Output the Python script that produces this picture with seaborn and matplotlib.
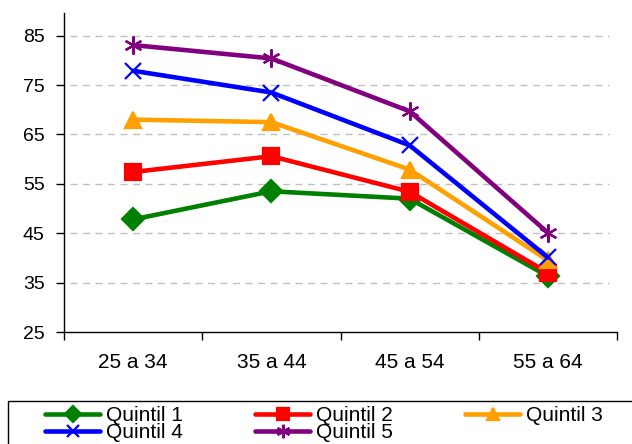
import matplotlib
matplotlib.use("Agg")
import matplotlib.pyplot as plt
from matplotlib.patches import Rectangle
from matplotlib.lines import Line2D
import seaborn as sns
import pandas as pd

# Age groups on the x axis
age_groups = ["25 a 34", "35 a 44", "45 a 54", "55 a 64"]

# Values by income quintil
quintil_1 = [47.8, 53.5, 52.0, 36.3]
quintil_2 = [57.4, 60.6, 53.4, 37.0]
quintil_3 = [68.0, 67.5, 57.9, 39.5]
quintil_4 = [77.9, 73.5, 62.8, 40.1]
quintil_5 = [83.1, 80.4, 69.7, 45.1]

series_names = ["Quintil 1", "Quintil 2", "Quintil 3", "Quintil 4", "Quintil 5"]
series_values = [quintil_1, quintil_2, quintil_3, quintil_4, quintil_5]

y_ticks = [25, 35, 45, 55, 65, 75, 85]

colors = ["#008000", "#FF0000", "#FFA000", "#0000FF", "#800080"]
markers = ["D", "s", "^", "x", (6, 2, 0)]
marker_sizes = [11, 11, 12, 12, 13]

rows = []
for name, vals in zip(series_names, series_values):
    for age, v in zip(age_groups, vals):
        rows.append({"Edad": age, "Valor": v, "Serie": name})
df = pd.DataFrame(rows)

sns.set_theme(style="white")
plt.rcParams["font.family"] = ["Liberation Sans", "DejaVu Sans"]
plt.rcParams["text.color"] = "#000000"

fig = plt.figure(figsize=(6.32, 4.44), dpi=100)
ax = fig.add_axes([64 / 632, 1 - 332 / 444, (617 - 64) / 632, (332 - 13) / 444])

sns.lineplot(data=df, x="Edad", y="Valor", hue="Serie", palette=colors,
             sort=False, linewidth=3.3, ax=ax, legend=False)

for line, col, m, ms in zip(ax.lines, colors, markers, marker_sizes):
    line.set_marker(m)
    line.set_markeredgecolor(col)
    line.set_markerfacecolor(col)
    line.set_markersize(ms)
    line.set_markeredgewidth(1.6)
    line.set_solid_joinstyle("round")

ax.set_xlim(-0.5, 3.5)
ax.set_ylim(25, 89.6)
ax.set_yticks(y_ticks)
ax.set_yticklabels([str(t) for t in y_ticks])
ax.set_xticks([-0.5, 0.5, 1.5, 2.5, 3.5])
ax.set_xticklabels([])
ax.set_xticks(range(len(age_groups)), minor=True)
ax.set_xticklabels(age_groups, minor=True)
ax.tick_params(axis="x", which="minor", bottom=False, length=0, pad=15,
               labelsize=15, labelcolor="#000000")
ax.tick_params(axis="x", which="major", bottom=True, direction="out", length=6,
               width=1, color="#000000")
ax.tick_params(axis="y", left=True, direction="out", length=6, width=1,
               color="#000000", labelsize=14, labelcolor="#000000", pad=8)
ax.set_xlabel("")
ax.set_ylabel("")

for t in y_ticks[1:]:
    ax.axhline(t, xmin=0.01, xmax=0.985, color="#c0c0c0", linestyle=(0, (5, 4)),
               linewidth=1, zorder=0)

for side in ["top", "right"]:
    ax.spines[side].set_visible(False)
for side in ["left", "bottom"]:
    ax.spines[side].set_color("#000000")
    ax.spines[side].set_linewidth(1)

# Legend frame and entries below the plot
fig.patches.append(Rectangle((8 / 632, -0.2), 1.0, 1 - 401 / 444 + 0.2,
                             transform=fig.transFigure, fill=False,
                             edgecolor="#000000", linewidth=1, clip_on=False))
handles = [Line2D([], [], color=c, marker=m, markersize=ms * 0.75, linewidth=3.3,
                  markeredgecolor=c, markerfacecolor=c, markeredgewidth=1.6)
           for c, m, ms in zip(colors, markers, marker_sizes)]
# fill the three columns row by row
order = [0, 3, 1, 4, 2]
leg = fig.legend([handles[i] for i in order], [series_names[i] for i in order],
                 loc="upper left", bbox_to_anchor=(45 / 632, 1 - 406 / 444), ncol=3,
                 frameon=False, fontsize=15, handlelength=2.64, handletextpad=0.29,
                 columnspacing=3.46, labelspacing=-0.1, borderpad=0, borderaxespad=0)
for txt in leg.get_texts():
    txt.set_color("#000000")

fig.savefig("out.png", dpi=100)
